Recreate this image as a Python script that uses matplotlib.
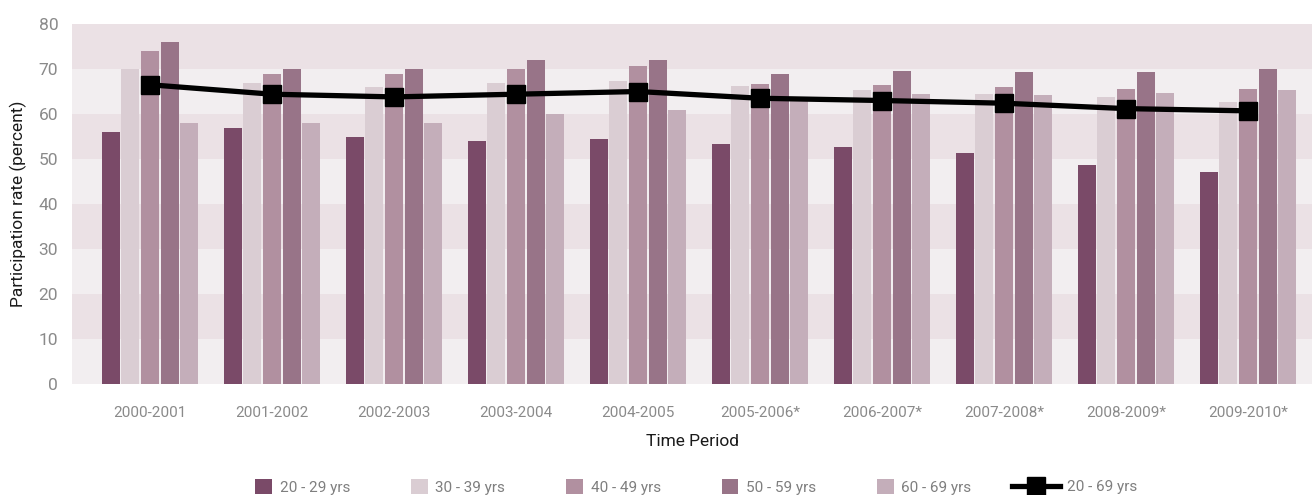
import numpy as np
import matplotlib.pyplot as plt
from matplotlib.patches import Patch
from matplotlib.lines import Line2D

plt.rcParams['font.family'] = ['Roboto', 'DejaVu Sans']

periods = ['2000-2001', '2001-2002', '2002-2003', '2003-2004', '2004-2005',
           '2005-2006*', '2006-2007*', '2007-2008*', '2008-2009*', '2009-2010*']
age_20_29 = [56, 57, 55, 54, 54.5, 53.4, 52.7, 51.3, 48.7, 47.1]
age_30_39 = [70, 67, 66, 67, 67.3, 66.2, 65.3, 64.4, 63.8, 62.7]
age_40_49 = [74, 69, 69, 70, 70.6, 66.7, 66.4, 66.0, 65.5, 65.5]
age_50_59 = [76, 70, 70, 72, 72, 68.9, 69.5, 69.3, 69.3, 70.0]
age_60_69 = [58, 58, 58, 60, 60.9, 63.2, 64.4, 64.2, 64.7, 65.3]
age_20_69 = [66.5, 64.4, 63.8, 64.4, 65.0, 63.5, 63.0, 62.4, 61.2, 60.7]

labels = ['20 - 29 yrs', '30 - 39 yrs', '40 - 49 yrs', '50 - 59 yrs', '60 - 69 yrs']
colors = ['#7a4a68', '#dacdd3', '#b190a0', '#987488', '#c4aeba']
series = [age_20_29, age_30_39, age_40_49, age_50_59, age_60_69]

fig = plt.figure(figsize=(13.12, 4.95), dpi=100)
ax = fig.add_axes([0.0549, 0.2242, 0.9451, 0.7273])

# alternating horizontal bands behind the bars
for lo in range(0, 80, 10):
    ax.axhspan(lo, lo + 10, color='#ebe1e5' if (lo // 10) % 2 else '#f2eef0',
               lw=0, zorder=0)

x = np.arange(len(periods))
step = 0.161
width = 0.148
for i, (vals, col) in enumerate(zip(series, colors)):
    ax.bar(x + (i - 2) * step, vals, width=width, color=col, zorder=2)

ax.plot(x, age_20_69, color='black', lw=3.8, marker='s', ms=12.5, zorder=3)

ax.set_xlim(-0.64, 9.525)
ax.set_ylim(0, 80)
ax.set_yticks(range(0, 81, 10))
ax.set_xticks(x)
ax.set_xticklabels(periods)
for s in ax.spines.values():
    s.set_visible(False)
ax.tick_params(axis='both', length=0, colors='#8a8a8a', labelsize=11)
ax.tick_params(axis='x', pad=16)
ax.tick_params(axis='y', pad=10, labelsize=12.5)
ax.set_xlabel('Time Period', fontsize=12.5, color='#1a1a1a', labelpad=10)
ax.set_ylabel('Participation rate (percent)', fontsize=12.5, color='#1a1a1a', labelpad=8)

# legend: five square patches plus the line entry
patches = [Patch(facecolor=c, label=l) for c, l in zip(colors, labels)]
fig.legend(handles=patches, loc='center left', bbox_to_anchor=(0.1842, 0.016),
           ncol=5, frameon=False, fontsize=11, handlelength=1.1, handleheight=1.1,
           handletextpad=0.5, columnspacing=3.98, labelcolor='#7f7f7f')
line_h = Line2D([], [], color='black', lw=3.8, marker='s', ms=12.5, label='20 - 69 yrs')
fig.legend(handles=[line_h], loc='center left', bbox_to_anchor=(0.7605, 0.016),
           frameon=False, fontsize=11, handlelength=3.2, handletextpad=0.4,
           labelcolor='#7f7f7f')

fig.savefig('out.png', dpi=100)
